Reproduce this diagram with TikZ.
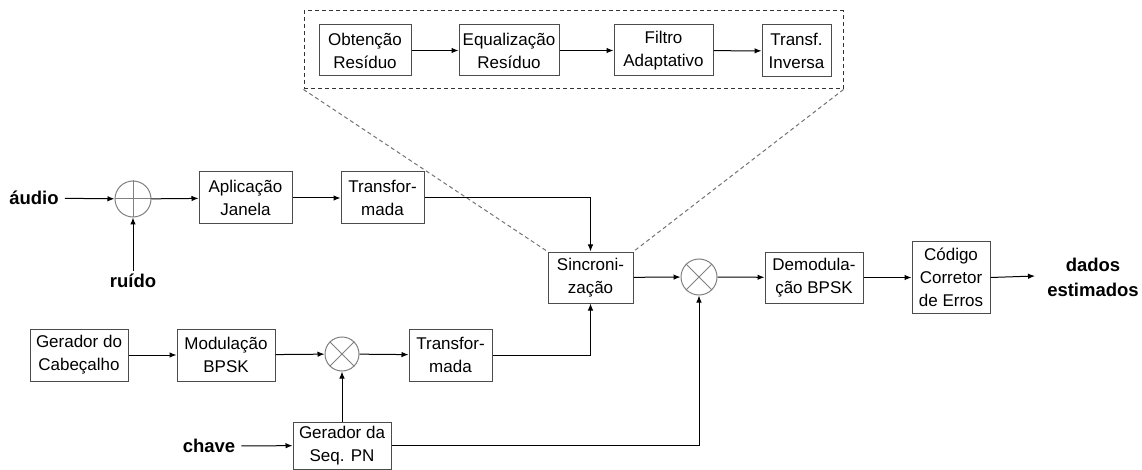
\documentclass[tikz,border=0pt]{standalone}
\usepackage{fontspec}
\setmainfont{Liberation Sans}
\usetikzlibrary{arrows.meta}
\begin{document}
\begin{tikzpicture}[x=1pt,y=-1pt,
  blk/.style={draw=black!70,line width=1pt,rectangle,inner sep=0pt,align=center,
    font=\fontsize{17}{23}\selectfont},
  sumc/.style={draw=black!50,line width=1pt,circle,inner sep=0pt,minimum size=36pt},
  lbl/.style={font=\fontsize{18.5}{25}\bfseries\selectfont,align=center,inner sep=6pt},
  con/.style={line width=1pt,-{Latex[length=7pt,width=5.5pt]}},
  zoomline/.style={draw=black!55,line width=1pt,dash pattern=on 4pt off 3pt}]
\useasboundingbox (0,0) rectangle (1142,470);
% zoom box
\node[draw=black!80,line width=1pt,dash pattern=on 4pt off 3pt,rectangle,inner sep=0pt,
  minimum width=539pt,minimum height=78pt] (zb) at (573.5,50) {};
\node[blk,minimum width=92pt,minimum height=51pt] (obt) at (365,50.5) {Obtenção\\Resíduo};
\node[blk,minimum width=100pt,minimum height=51pt] (equ) at (509,50.5) {Equalização\\Resíduo};
\node[blk,minimum width=99pt,minimum height=51pt] (fil) at (663.5,50.5) {Filtro\\Adaptativo};
\node[blk,minimum width=69pt,minimum height=52pt] (inv) at (796.5,51) {Transf.\\Inversa};
% upper chain
\node[lbl] (aud) at (34,198) {áudio};
\node[sumc] (add) at (133,199) {};
\draw[black!50,line width=1pt] (add.north) -- (add.south) (add.west) -- (add.east);
\node[lbl,inner sep=3pt] (rui) at (133,281) {ruído};
\node[blk,minimum width=93pt,minimum height=52pt] (apl) at (245.5,198) {Aplicação\\Janela};
\node[blk,minimum width=83pt,minimum height=52pt] (tr1) at (382.5,198) {Transfor-\\mada};
% middle
\node[blk,minimum width=85pt,minimum height=51pt] (sin) at (590.5,277.5) {Sincroni-\\zação};
\node[sumc] (mu1) at (699,277) {};
\draw[black!50,line width=1pt] (mu1.north west) -- (mu1.south east) (mu1.north east) -- (mu1.south west);
\node[blk,minimum width=98pt,minimum height=51pt] (dem) at (814,277.5) {Demodula-\\ção BPSK};
\node[blk,minimum width=78pt,minimum height=71pt] (cod) at (951,277.5) {Código\\Corretor\\de Erros};
\node[lbl,inner sep=0pt] (dad) at (1093,277) {dados\\estimados};
\coordinate (dadin) at (1035,276);
% lower chain
\node[blk,minimum width=98pt,minimum height=52pt] (ger) at (79,355) {Gerador do\\Cabeçalho};
\node[blk,minimum width=98pt,minimum height=52pt] (mod) at (226,355) {Modulação\\BPSK};
\node[sumc,minimum size=34pt] (mu2) at (342,354) {};
\draw[black!50,line width=1pt] (mu2.north west) -- (mu2.south east) (mu2.north east) -- (mu2.south west);
\node[blk,minimum width=83pt,minimum height=52pt] (tr2) at (450.5,355) {Transfor-\\mada};
\node[blk,minimum width=98pt,minimum height=47pt] (pn) at (342,445.5) {Gerador da\\Seq. PN};
\node[lbl] (cha) at (209,446) {chave};
% zoom diagonals
\draw[zoomline] (zb.south west) -- (sin.north west);
\draw[zoomline] (zb.south east) -- (sin.north east);
% connectors
\draw[con] (obt) -- (equ);
\draw[con] (equ) -- (fil);
\draw[con] (fil) -- (inv);
\draw[con] (aud) -- (add);
\draw[con] (rui) -- (add);
\draw[con] (add) -- (apl);
\draw[con] (apl) -- (tr1);
\draw[con] (tr1.east) -| (sin.north);
\draw[con] (sin) -- (mu1);
\draw[con] (mu1) -- (dem);
\draw[con] (dem) -- (cod);
\draw[con] (cod.east) -- (dadin);
\draw[con] (ger) -- (mod);
\draw[con] (mod) -- (mu2);
\draw[con] (mu2) -- (tr2);
\draw[con] (tr2.east) -| (sin.south);
\draw[con] (pn.north) -- (mu2.south);
\draw[con] (pn.east) -| (mu1.south);
\draw[con] (cha) -- (pn);
\end{tikzpicture}
\end{document}
